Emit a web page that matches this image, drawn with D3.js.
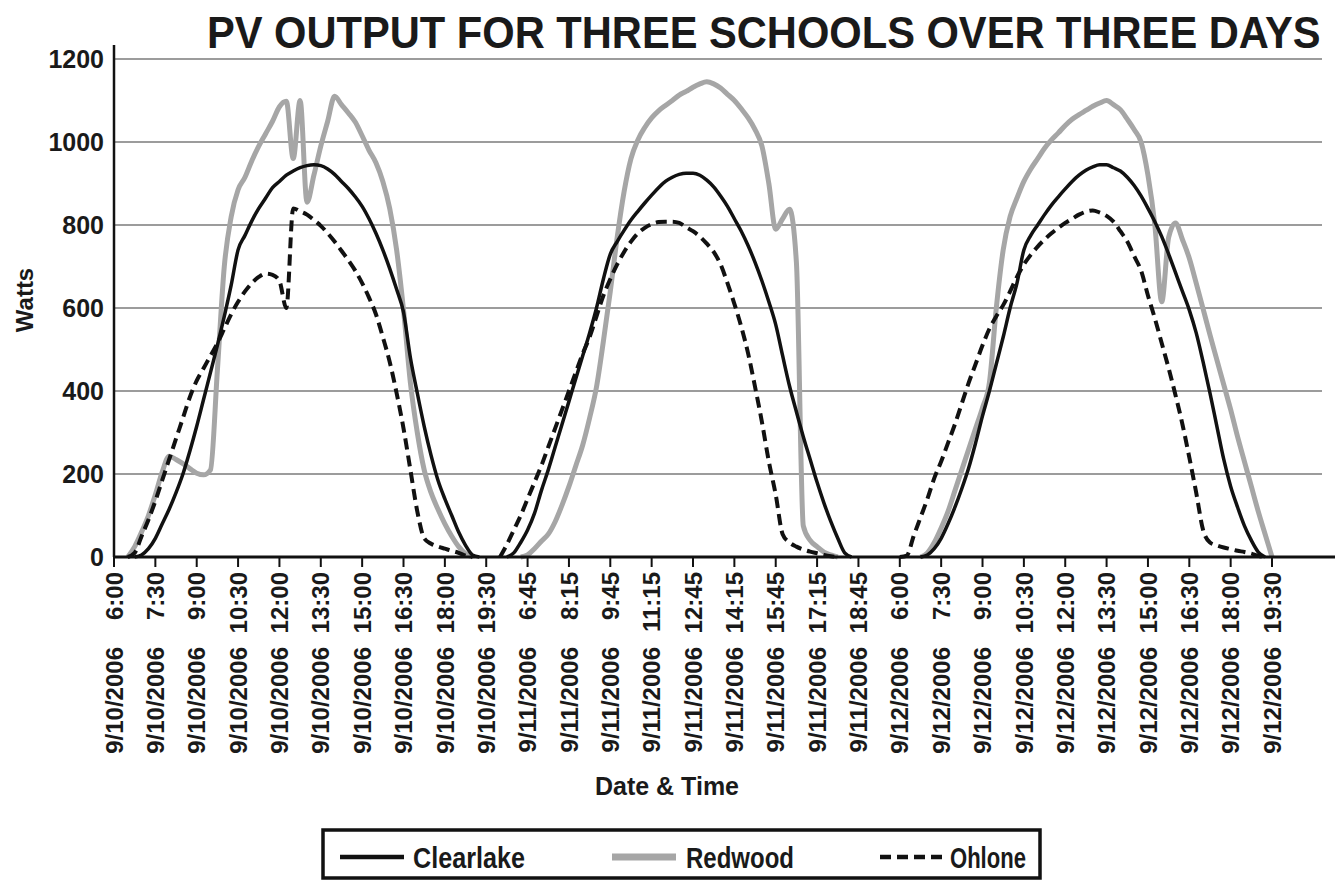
<!DOCTYPE html>
<html><head><meta charset="utf-8">
<script src="https://cdn.jsdelivr.net/npm/d3@7"></script>
<style>
html,body{margin:0;padding:0;background:#fff;}
svg{display:block;}
text{font-family:"Liberation Sans",Arial,Helvetica,sans-serif;font-weight:bold;fill:#1a1a1a;}
</style></head>
<body>
<svg id="chart" width="1335" height="881"></svg>
<script>
// ---- data (15-minute readings, 6:00-20:00 each day) ----
const tickDates = ["9/10/2006","9/10/2006","9/10/2006","9/10/2006","9/10/2006","9/10/2006","9/10/2006","9/10/2006","9/10/2006","9/10/2006",
  "9/11/2006","9/11/2006","9/11/2006","9/11/2006","9/11/2006","9/11/2006","9/11/2006","9/11/2006","9/11/2006",
  "9/12/2006","9/12/2006","9/12/2006","9/12/2006","9/12/2006","9/12/2006","9/12/2006","9/12/2006","9/12/2006","9/12/2006"];
const tickTimes = ["6:00","7:30","9:00","10:30","12:00","13:30","15:00","16:30","18:00","19:30",
  "6:45","8:15","9:45","11:15","12:45","14:15","15:45","17:15","18:45",
  "6:00","7:30","9:00","10:30","12:00","13:30","15:00","16:30","18:00","19:30"];
const labelEvery = 6;
const yTicks = [0,200,400,600,800,1000,1200];

const clearlake = [
 0,0,0,0,5,20,45,80,115,155, 200,255,315,380,445,510,580,655,740,775, 810,840,865,890,905,920,930,938,943,945,
 943,935,922,905,888,868,845,815,780,740, 695,645,590,480,395,315,245,185,140,100, 60,28,5,0,0,0,0,
 0,10,35,65,105,160,210,265,320,375, 430,485,540,600,670,730,760,787,812,833, 853,872,890,905,915,922,925,925,920,908,
 892,870,845,815,785,750,710,665,615,560, 485,412,350,290,235,180,130,85,45,10, 0,0,0,0,0,0,0,
 0,0,0,0,5,20,45,80,120,165, 215,275,340,400,465,530,600,660,740,775, 800,825,848,868,887,905,920,932,940,945,
 945,938,930,915,895,870,840,808,772,730, 685,640,595,540,470,395,315,235,170,120, 75,40,12,0,0,0,0];

const redwood = [
 0,0,0,25,60,100,150,205,243,235, 225,213,202,198,210,450,700,820,885,915, 955,990,1020,1050,1085,1098,960,1100,855,920,
 990,1050,1110,1090,1070,1048,1015,980,950,905, 840,740,595,420,300,210,155,115,80,50, 25,8,0,0,0,0,0,
 0,0,0,5,20,38,55,85,125,170, 220,270,335,410,520,640,770,880,960,1005, 1035,1058,1075,1088,1100,1113,1122,1132,1140,1145,
 1140,1130,1115,1100,1080,1058,1030,990,900,790, 815,838,710,75,40,25,12,5,0,0, 0,0,0,0,0,0,0,
 0,0,0,0,10,35,70,110,160,210, 260,310,360,420,600,740,820,865,905,935, 960,985,1005,1022,1040,1055,1066,1076,1086,1094,
 1100,1090,1078,1055,1030,1000,920,800,615,770, 805,765,720,660,598,535,475,415,355,290, 230,170,110,55,0,0,0];

const ohlone = [
 0,0,0,10,50,90,135,185,235,285, 335,385,425,455,485,515,550,585,615,640, 660,675,683,680,665,600,840,833,825,812,
 798,780,760,738,715,690,660,625,585,530, 470,395,310,210,110,45,32,25,20,15, 10,3,0,0,0,0,0,
 30,65,100,140,180,220,265,310,355,400, 445,490,530,580,630,670,705,735,760,780, 793,802,807,808,808,805,795,785,772,755,
 735,705,660,610,555,490,410,325,230,150, 55,35,25,18,13,9,5,2,0,0, 0,0,0,0,0,0,0,
 0,3,50,95,140,190,230,275,320,370, 420,465,510,550,580,607,640,675,705,728, 748,765,780,793,805,815,825,832,835,830,
 822,808,785,760,725,690,630,575,515,455, 390,320,240,155,65,35,28,23,19,15, 12,8,3,0,0,0,0];

const series = [
  {name:"Redwood",   values: redwood,   color:"#a6a6a6", width:5,   dash:null},
  {name:"Clearlake", values: clearlake, color:"#111111", width:3.5, dash:null},
  {name:"Ohlone",    values: ohlone,    color:"#111111", width:4,   dash:"11,6"}
];

// ---- layout ----
const svg = d3.select("#chart");
const plotLeft = 114, plotXEnd = 114 + 168*6.893, gridRight = 1322, plotTop = 59, plotBottom = 557;
const nPts = clearlake.length;
const x = d3.scaleLinear().domain([0, 168]).range([plotLeft, plotXEnd]);
const y = d3.scaleLinear().domain([0, 1200]).range([plotBottom, plotTop]);

// helper: horizontally condensed text fitted to a width (via scale transform)
function squeezedText(parent, str, x0, yBase, size, width) {
  const t = parent.append("text").attr("x", 0).attr("y", 0)
    .style("font-size", size + "px").text(str);
  const w = t.node().getComputedTextLength();
  const k = Math.min(1, width / w);
  t.attr("transform", `translate(${x0},${yBase}) scale(${k},1)`);
  return t;
}

// title
squeezedText(svg, "PV OUTPUT FOR THREE SCHOOLS OVER THREE DAYS", 207, 48, 45, 1114);

// gridlines
svg.append("g").selectAll("line").data(yTicks.filter(d => d > 0)).join("line")
  .attr("x1", plotLeft).attr("x2", gridRight)
  .attr("y1", d => y(d)).attr("y2", d => y(d))
  .attr("stroke", "#9c9c9c").attr("stroke-width", 2);

// lines
const idx = d3.range(nPts);
series.forEach(s => {
  const v = s.values;
  const line = d3.line()
    .defined(i => v[i] > 0 || (v[i-1] || 0) > 0 || (v[i+1] || 0) > 0)
    .x(i => x(i)).y(i => y(v[i]))
    .curve(d3.curveMonotoneX);
  svg.append("path").datum(idx)
    .attr("d", line).attr("fill", "none")
    .attr("stroke", s.color).attr("stroke-width", s.width)
    .attr("stroke-linejoin", "round")
    .attr("stroke-dasharray", s.dash);
});

// y axis
svg.append("line").attr("x1", plotLeft).attr("x2", plotLeft).attr("y1", 45).attr("y2", plotBottom)
  .attr("stroke", "#111").attr("stroke-width", 2.5);
svg.append("g").selectAll("text").data(yTicks).join("text")
  .attr("x", 104).attr("y", d => y(d)).attr("dy", "0.36em")
  .attr("text-anchor", "end").style("font-size", "25px").text(d => d);

// x axis
svg.append("line").attr("x1", plotLeft).attr("x2", 1335).attr("y1", plotBottom).attr("y2", plotBottom)
  .attr("stroke", "#111").attr("stroke-width", 3);
const tickIdx = tickTimes.map((t, k) => k * labelEvery);
svg.append("g").selectAll("line").data(tickIdx).join("line")
  .attr("x1", d => x(d)).attr("x2", d => x(d)).attr("y1", plotBottom).attr("y2", plotBottom + 10)
  .attr("stroke", "#111").attr("stroke-width", 2);
const lab = svg.append("g").selectAll("g").data(tickIdx).join("g");
lab.append("text")
  .attr("transform", d => `translate(${x(d)},572) rotate(-90)`)
  .attr("dy", "0.36em").attr("text-anchor", "end").style("font-size", "24px")
  .text((d, k) => tickTimes[k]);
lab.append("text")
  .attr("transform", d => `translate(${x(d)},647) rotate(-90)`)
  .attr("dy", "0.36em").attr("text-anchor", "end").style("font-size", "24px")
  .text((d, k) => tickDates[k]);

// axis titles
svg.append("text").attr("transform", "translate(24,300) rotate(-90)")
  .attr("dy", "0.36em").attr("text-anchor", "middle").style("font-size", "24px").text("Watts");
svg.append("text").attr("x", 667).attr("y", 795).attr("text-anchor", "middle")
  .style("font-size", "25px").text("Date & Time");

// legend
const lg = svg.append("g");
lg.append("rect").attr("x", 323).attr("y", 830).attr("width", 717).attr("height", 48)
  .attr("fill", "#fff").attr("stroke", "#111").attr("stroke-width", 3.5);
const legendItems = [
  {s: series[1], x0: 340, tx: 413, tl: 112},
  {s: series[0], x0: 612, tx: 686, tl: 108},
  {s: series[2], x0: 880, tx: 950, tl: 76}
];
legendItems.forEach(it => {
  lg.append("line").attr("x1", it.x0).attr("x2", it.x0 + 64).attr("y1", 857).attr("y2", 857)
    .attr("stroke", it.s.color).attr("stroke-width", it.s.name === "Redwood" ? 7 : 4.5)
    .attr("stroke-dasharray", it.s.dash);
  squeezedText(lg, it.s.name, it.tx, 868, 29, it.tl);
});
</script>
</body></html>
